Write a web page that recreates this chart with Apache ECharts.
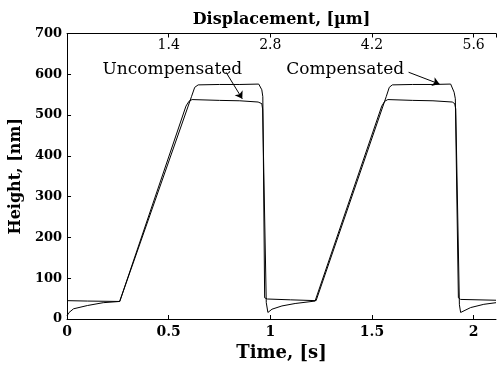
<!DOCTYPE html>
<html>
<head>
<meta charset="utf-8">
<script src="https://cdn.jsdelivr.net/npm/echarts@6/dist/echarts.min.js"></script>
<style>
  html, body { margin: 0; padding: 0; background: #fff; }
  #chart { width: 499px; height: 367px; }
</style>
</head>
<body>
<div id="chart"></div>
<script>
// Measured step-scan height profiles: time [s] vs height [nm]
const compTime = [0, 0.10, 0.259, 0.612, 0.628, 0.645, 0.75, 0.85, 0.943, 0.958, 0.963, 0.972, 0.985, 1.10, 1.225,
                  1.570, 1.585, 1.600, 1.70, 1.80, 1.887, 1.904, 1.910, 1.925, 1.936, 2.11];
const compHeight = [45, 44, 43, 545, 568, 574, 575, 575, 576, 562, 545, 52, 49, 47, 45,
                    545, 568, 574, 575, 575, 576, 556, 540, 52, 48, 46];

const uncompTime = [0, 0.01, 0.032, 0.10, 0.178, 0.259, 0.585, 0.600, 0.615, 0.75, 0.85, 0.94, 0.958, 0.962,
                    0.98, 0.988, 1.008, 1.057, 1.122, 1.22, 1.548, 1.563, 1.578, 1.70, 1.80, 1.895, 1.907,
                    1.912, 1.93, 1.936, 1.985, 2.05, 2.11];
const uncompHeight = [8, 16, 25, 33, 40, 43, 522, 534, 538, 536, 535, 532, 528, 515,
                      40, 16, 24, 32, 38, 44, 522, 534, 538, 536, 535, 532, 528,
                      515, 35, 16, 28, 36, 40];

// Axis ranges and scale factors
const timeMax = 2.11;
const umPerSecond = 2.8;          // displacement = 2.8 * time
const heightMax = 700;

// Text annotations and arrows, in data coordinates
const uncompLabel = { text: 'Uncompensated', at: [0.518, 612] };
const compLabel = { text: 'Compensated', at: [1.368, 612] };
const uncompArrow = [[0.782, 605], [0.862, 540]];
const compArrow = [[1.68, 605], [1.832, 576]];

const zip = (xs, ys) => xs.map((x, i) => [x, ys[i]]);

const serif = 'DejaVu Serif';
const black = '#000';

const labelPoint = (lbl) => ({
  coord: lbl.at,
  symbol: 'circle',
  symbolSize: 0,
  label: {
    show: true, position: 'inside', formatter: lbl.text,
    fontFamily: serif, fontSize: 17, color: black
  }
});

const arrowLine = (a) => [{ coord: a[0] }, { coord: a[1] }];

const chart = echarts.init(document.getElementById('chart'), null, { renderer: 'canvas' });

const axisCommon = {
  axisLine: { show: true, onZero: false, lineStyle: { color: black, width: 1 } },
  axisTick: { show: true, inside: true, length: 4, lineStyle: { color: black, width: 1 } },
  splitLine: { show: false }
};

chart.setOption({
  animation: false,
  backgroundColor: '#fff',
  grid: { left: 67, right: 0, top: 33.5, bottom: 42, containLabel: false },
  xAxis: [
    Object.assign({}, axisCommon, {
      type: 'value', position: 'bottom', min: 0, max: timeMax, interval: 0.5,
      name: 'Time, [s]', nameLocation: 'middle', nameGap: 25,
      nameTextStyle: { fontFamily: serif, fontWeight: 'bold', fontSize: 18, color: black },
      axisLabel: {
        showMaxLabel: false, margin: 6,
        fontFamily: serif, fontWeight: 'bold', fontSize: 14, color: black
      }
    }),
    Object.assign({}, axisCommon, {
      type: 'value', position: 'top', min: 0, max: timeMax * umPerSecond, interval: 1.4,
      name: 'Displacement, [µm]', nameLocation: 'middle', nameGap: 6,
      nameTextStyle: { fontFamily: serif, fontWeight: 'bold', fontSize: 16, color: black },
      axisLabel: {
        inside: true, margin: 5,
        fontFamily: serif, fontSize: 14, color: black,
        formatter: (v) => {
          const k = v / 1.4;
          return (v > 0 && Math.abs(k - Math.round(k)) < 1e-6) ? v.toFixed(1) : '';
        }
      }
    })
  ],
  yAxis: Object.assign({}, axisCommon, {
    type: 'value', min: 0, max: heightMax, interval: 100,
    name: 'Height, [nm]', nameLocation: 'middle', nameGap: 31, nameRotate: 90,
    nameTextStyle: { fontFamily: serif, fontWeight: 'bold', fontSize: 16, color: black },
    axisLabel: { margin: 5, fontFamily: serif, fontWeight: 'bold', fontSize: 13, color: black }
  }),
  series: [
    {
      name: 'Compensated', type: 'line', xAxisIndex: 0,
      data: zip(compTime, compHeight),
      symbol: 'none', lineStyle: { color: black, width: 1 },
      markPoint: { silent: true, data: [labelPoint(compLabel)] },
      markLine: {
        silent: true, symbol: ['none', 'arrow'], symbolSize: 7,
        lineStyle: { color: black, width: 1, type: 'solid' },
        label: { show: false },
        data: [arrowLine(compArrow)]
      }
    },
    {
      name: 'Uncompensated', type: 'line', xAxisIndex: 0,
      data: zip(uncompTime, uncompHeight),
      symbol: 'none', lineStyle: { color: black, width: 1 },
      markPoint: { silent: true, data: [labelPoint(uncompLabel)] },
      markLine: {
        silent: true, symbol: ['none', 'arrow'], symbolSize: 7,
        lineStyle: { color: black, width: 1, type: 'solid' },
        label: { show: false },
        data: [arrowLine(uncompArrow)]
      }
    }
  ]
});
</script>
</body>
</html>
